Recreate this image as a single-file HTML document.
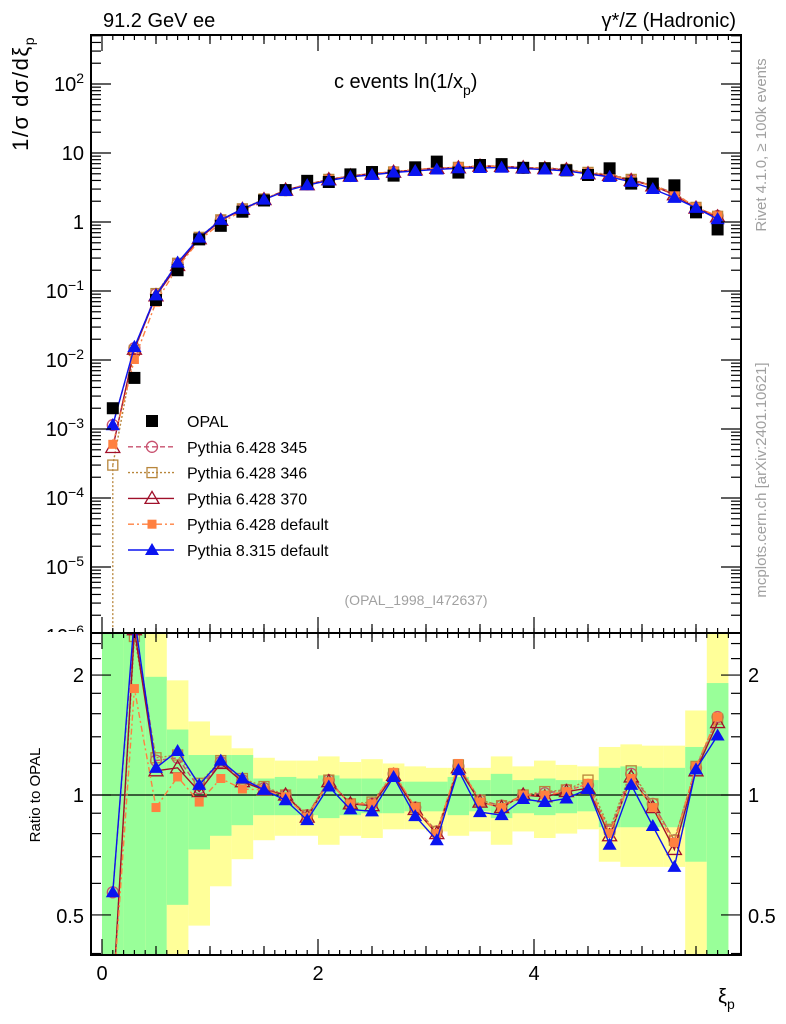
<!DOCTYPE html>
<html><head><meta charset="utf-8"><style>
html,body{margin:0;padding:0;background:#fff;overflow:hidden;width:786px;height:1024px;}
svg{display:block;}
svg text{font-family:"Liberation Sans",sans-serif;}
</style></head><body>
<svg id="c" width="786" height="1024" viewBox="0 0 786 1024" xmlns="http://www.w3.org/2000/svg">
<rect width="786" height="1024" fill="#fff"/>
<defs>
<clipPath id="ct"><rect x="91" y="35" width="650" height="598"/></clipPath>
<clipPath id="cb"><rect x="91" y="633" width="650" height="322"/></clipPath>
<clipPath id="cl"><rect x="0" y="0" width="786" height="632"/></clipPath>
</defs>
<g id="bands"></g><g id="series"></g><g id="axes"></g><g id="labels"></g>
</svg>
<script>
const xi=[0.1,0.3,0.5,0.7,0.9,1.1,1.3,1.5,1.7,1.9,2.1,2.3,2.5,2.7,2.9,3.1,3.3,3.5,3.7,3.9,4.1,4.3,4.5,4.7,4.9,5.1,5.3,5.5,5.7];
const opal=[0.002,0.0055,0.074,0.2,0.56,0.88,1.41,2.05,2.9,3.95,3.8,4.9,5.3,4.7,6.2,7.5,5.2,6.7,6.9,6.1,6.0,5.6,4.8,6.0,3.6,3.6,3.4,1.38,0.78];
const rP8=[0.57,2.8,1.17,1.29,1.06,1.22,1.10,1.03,0.97,0.865,1.05,0.92,0.91,1.11,0.885,0.77,1.155,0.906,0.89,0.977,0.96,0.98,1.035,0.75,1.06,0.836,0.66,1.16,1.41];
const rDef=[0.3,1.85,0.93,1.11,0.96,1.10,1.035,1.03,0.99,0.88,1.08,0.95,0.95,1.14,0.93,0.80,1.20,0.96,0.93,1.0,1.0,1.02,1.07,0.80,1.10,0.93,0.76,1.18,1.57];
const r370=[0.27,2.6,1.15,1.17,1.02,1.20,1.08,1.03,1.0,0.88,1.08,0.95,0.94,1.12,0.92,0.80,1.17,0.96,0.93,1.0,0.99,1.02,1.04,0.79,1.11,0.93,0.73,1.15,1.52];
const r345=[0.57,2.7,1.22,1.24,1.04,1.21,1.09,1.04,1.0,0.89,1.09,0.95,0.95,1.13,0.93,0.81,1.18,0.97,0.94,1.0,1.01,1.03,1.06,0.81,1.13,0.95,0.77,1.17,1.57];
const r346=[0.15,2.5,1.24,1.26,1.07,1.22,1.10,1.05,1.0,0.89,1.09,0.95,0.96,1.13,0.93,0.81,1.19,0.97,0.94,1.0,1.02,1.03,1.09,0.82,1.15,0.95,0.77,1.18,1.55];
const gHi=[9,9,1.98,1.46,1.26,1.26,1.26,1.10,1.11,1.10,1.12,1.10,1.10,1.08,1.08,1.08,1.11,1.09,1.13,1.09,1.10,1.09,1.09,1.17,1.18,1.17,1.17,1.32,1.91];
const gLo=[0.1,0.1,0.1,0.53,0.73,0.79,0.84,0.89,0.89,0.89,0.875,0.89,0.90,0.90,0.91,0.91,0.89,0.91,0.875,0.90,0.89,0.90,0.91,0.83,0.83,0.83,0.83,0.68,0.1];
const yHi=[9,9,9,1.94,1.53,1.41,1.31,1.24,1.22,1.22,1.25,1.21,1.23,1.20,1.18,1.17,1.17,1.17,1.25,1.18,1.22,1.19,1.18,1.32,1.34,1.33,1.33,1.63,9];
const yLo=[0.1,0.1,0.1,0.1,0.47,0.59,0.69,0.77,0.79,0.79,0.75,0.79,0.78,0.82,0.82,0.81,0.79,0.81,0.75,0.81,0.78,0.80,0.82,0.68,0.66,0.66,0.66,0.1,0.1];
const NS="http://www.w3.org/2000/svg";
const L=91,R=741,T=35,M=633,B=955;
const X=v=>102+108*v;
const YT=v=>222-69*Math.log10(v);
const YR=v=>Math.max(M,Math.min(B,795-173*Math.log(v)));
const YRL=v=>Math.max(600,Math.min(1000,795-173*Math.log(v)));
function mk(p,tag,a){const e=document.createElementNS(NS,tag);for(const k in a)e.setAttribute(k,a[k]);p.appendChild(e);return e;}
const gb=document.getElementById('bands'),gs=document.getElementById('series'),ga=document.getElementById('axes'),gl=document.getElementById('labels');
xi.forEach((x,i)=>{
 const x0=Math.max(X(x-0.1),L+1),x1=Math.min(X(x+0.1),R-1);
 let r=mk(gb,'rect',{x:x0,y:YR(yHi[i]),width:x1-x0,height:YR(yLo[i])-YR(yHi[i]),fill:'#ffff99'});
 
 
 let g=mk(gb,'rect',{x:x0,y:YR(gHi[i]),width:x1-x0,height:YR(gLo[i])-YR(gHi[i]),fill:'#99ff99'});
 
 
});
mk(gb,'line',{x1:L,x2:R,y1:795,y2:795,stroke:'#000','stroke-width':1.2});
const gTop=mk(gs,'g',{'clip-path':'url(#ct)'}),gBot=mk(gs,'g',{'clip-path':'url(#cb)'});
function marker(p,type,x,y,col){
 let e;
 if(type==='sq')e=mk(p,'rect',{x:x-6,y:y-6,width:12,height:12,fill:col});
 else if(type==='fsq')e=mk(p,'rect',{x:x-4.5,y:y-4.5,width:9,height:9,fill:col});
 else if(type==='osq')e=mk(p,'rect',{x:x-5,y:y-5,width:10,height:10,fill:'none',stroke:col,'stroke-width':1.3});
 else if(type==='oc')e=mk(p,'circle',{cx:x,cy:y,r:5.5,fill:'none',stroke:col,'stroke-width':1.3});
 else if(type==='otri')e=mk(p,'polygon',{points:`${x},${y-7} ${x-7},${y+5} ${x+7},${y+5}`,fill:'none',stroke:col,'stroke-width':1.3});
 else e=mk(p,'polygon',{points:`${x},${y-7} ${x-7},${y+5} ${x+7},${y+5}`,fill:col});
 return e;
}
const series=[
 {n:'pythia-6428-345',r:r345,c:'#c8506e',m:'oc',d:'5,3'},
 {n:'pythia-6428-346',r:r346,c:'#b8863b',m:'osq',d:'2,2'},
 {n:'pythia-6428-370',r:r370,c:'#a0102a',m:'otri',d:''},
 {n:'pythia-6428-default',r:rDef,c:'#ff8040',m:'fsq',d:'6,3,2,3'},
 {n:'pythia-8315-default',r:rP8,c:'#0a14f0',m:'tri',d:''}
];
mk(gTop,'line',{x1:X(0.1),x2:X(0.1),y1:YT(opal[0]*r346[0]),y2:M,stroke:'#b8863b','stroke-width':1.3,'stroke-dasharray':'2,2'});
series.forEach(s=>{
 const pt=xi.map((x,i)=>X(x)+','+YT(opal[i]*s.r[i])).join(' ');
 let pl=mk(gTop,'polyline',{points:pt,fill:'none',stroke:s.c,'stroke-width':1.4,'stroke-dasharray':s.d});
 
 
 const pb=xi.map((x,i)=>X(x)+','+YRL(s.r[i])).join(' ');
 let pr=mk(gBot,'polyline',{points:pb,fill:'none',stroke:s.c,'stroke-width':1.4,'stroke-dasharray':s.d});
 
 
 xi.forEach((x,i)=>{
  let m=marker(gTop,s.m,X(x),YT(opal[i]*s.r[i]),s.c);
  
  
  let m2=marker(gBot,s.m,X(x),YRL(s.r[i]),s.c);
  
  
 });
});
xi.forEach((x,i)=>{
 let m=marker(gTop,'sq',X(x),YT(opal[i]),'#000');
 
 
});
xi.forEach((x,i)=>{marker(gTop,'tri',X(x),YT(opal[i]*rP8[i]),'#0a14f0');});
mk(ga,'rect',{x:L,y:T,width:R-L,height:M-T,fill:'none',stroke:'#000','stroke-width':2});
mk(ga,'rect',{x:L,y:M,width:R-L,height:B-M,fill:'none',stroke:'#000','stroke-width':2});
function tick(x1,y1,x2,y2){mk(ga,'line',{x1,y1,x2,y2,stroke:'#000','stroke-width':1.2});}
for(let v=0;v<=5.75;v+=0.5){const x=X(v),mj=Math.abs(v%2)<1e-6;const l=mj?16:9;
 tick(x,T,x,T+l);tick(x,M,x,M-l);tick(x,M,x,M+l);tick(x,B,x,B-l);}
for(let v=0.1;v<5.8;v+=0.1){const x=X(v);tick(x,T,x,T+5);tick(x,M,x,M-5);tick(x,M,x,M+5);tick(x,B,x,B-5);}
for(let e=-6;e<=2;e++){for(let k=1;k<10;k++){const y=YT(k*Math.pow(10,e));if(y<T||y>M)continue;const l=k===1?20:10;tick(L,y,L+l,y);tick(R,y,R-l,y);}}
[0.4,0.5,0.6,0.7,0.8,0.9,1,1.2,1.4,1.6,1.8,2,2.2,2.4].forEach(v=>{const y=YR(v);if(y<=M||y>=B)return;const l=[0.5,1,2].includes(v)?20:10;tick(L,y,L+l,y);tick(R,y,R-l,y);});
function txt(s,x,y,a,name,extra){const t=mk(gl,'text',Object.assign({x:x,y:y,'font-size':a.fs||20,'text-anchor':a.an||'start',fill:a.fill||'#000'},extra||{}));t.innerHTML=s;return t;}
const ylab=['10<tspan dy="-8" font-size="14">2</tspan>','10','1','10<tspan dy="-8" font-size="14">−1</tspan>','10<tspan dy="-8" font-size="14">−2</tspan>','10<tspan dy="-8" font-size="14">−3</tspan>','10<tspan dy="-8" font-size="14">−4</tspan>','10<tspan dy="-8" font-size="14">−5</tspan>','10<tspan dy="-8" font-size="14">−6</tspan>'];
ylab.forEach((s,i)=>{const e=2-i;txt(s,84,YT(Math.pow(10,e))+7,{an:'end'},'y-tick-label',{'clip-path':'url(#cl)'});});
txt('2',84,682,{an:'end'},'ratio-tick-label');txt('1',84,802,{an:'end'},'ratio-tick-label');txt('0.5',84,923,{an:'end'},'ratio-tick-label');
txt('2',748,682,{},'ratio-tick-label-right');txt('1',748,802,{},'ratio-tick-label-right');txt('0.5',748,923,{},'ratio-tick-label-right');
txt('0',102,980,{an:'middle'},'x-tick-label');txt('2',318,980,{an:'middle'},'x-tick-label');txt('4',534,980,{an:'middle'},'x-tick-label');
txt('ξ<tspan dy="6" font-size="14">p</tspan>',718,1003,{},'x-axis-title');
txt('91.2 GeV ee',103,27,{},'energy-label');
txt('γ*/Z (Hadronic)',736,27,{an:'end'},'process-label');
txt('c events ln(1/x<tspan dy="7" font-size="14">p</tspan><tspan dy="-7">)</tspan>',334,88,{},'plot-title');
txt('(OPAL_1998_I472637)',416,605,{an:'middle',fs:14,fill:'#a0a0a0'},'analysis-id');
txt('1/σ   dσ/dξ<tspan dy="6" font-size="14">p</tspan>',0,0,{an:'end',fs:22},'y-axis-title',{transform:'translate(28,36) rotate(-90)','letter-spacing':'1.5'});
txt('Ratio to OPAL',0,0,{an:'middle',fs:15},'ratio-axis-title',{transform:'translate(40,795) rotate(-90)'});
txt('Rivet 4.1.0, ≥ 100k events',0,0,{an:'middle',fs:15,fill:'#a0a0a0'},'rivet-label',{transform:'translate(766,145) rotate(-90)'});
txt('mcplots.cern.ch [arXiv:2401.10621]',0,0,{an:'middle',fs:15,fill:'#a0a0a0'},'mcplots-label',{transform:'translate(766,480) rotate(-90)'});
const leg=[['OPAL','sq','#000',''],['Pythia 6.428 345','oc','#c8506e','5,3'],['Pythia 6.428 346','osq','#b8863b','2,2'],['Pythia 6.428 370','otri','#a0102a',''],['Pythia 6.428 default','fsq','#ff8040','6,3,2,3'],['Pythia 8.315 default','tri','#0a14f0','']];
leg.forEach((l,i)=>{const y=421+i*25.8;const g=mk(gl,'g',{});
 
 
 if(i>0)mk(g,'line',{x1:128,x2:174,y1:y,y2:y,stroke:l[2],'stroke-width':1.4,'stroke-dasharray':l[3]});
 marker(g,l[1],152,y,l[2]);
 const t=mk(g,'text',{x:187,y:y+6,'font-size':16});t.textContent=l[0];});
</script>
</body></html>
